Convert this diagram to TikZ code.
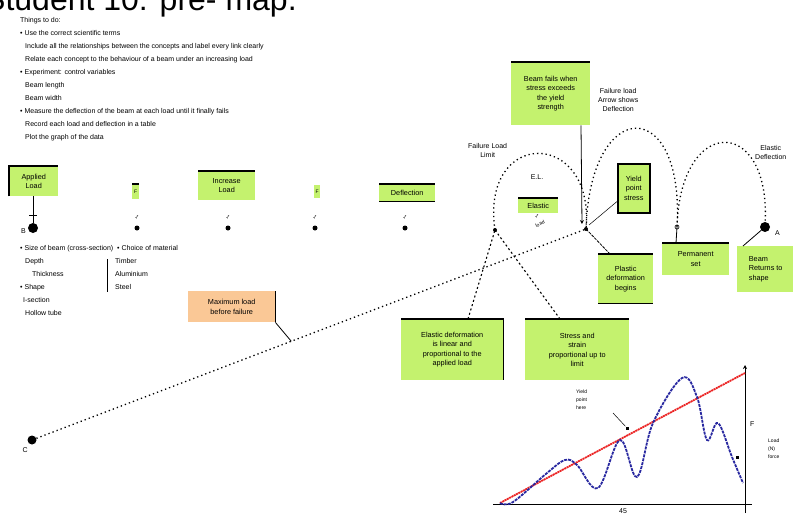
\documentclass[tikz,border=0pt]{standalone}
\usepackage{fontspec}
\setmainfont{Liberation Sans}
\usetikzlibrary{arrows.meta,calc}
\definecolor{boxgreen}{RGB}{196,242,110}
\definecolor{boxorange}{RGB}{250,200,150}
\definecolor{curveblue}{RGB}{40,40,160}
\definecolor{linered}{RGB}{235,35,35}
\begin{document}
\begin{tikzpicture}[x=1pt,y=-1pt,
  small/.style={font=\fontsize{7}{13}\selectfont, inner sep=0pt, align=left},
  tiny/.style={font=\fontsize{5}{6}\selectfont, inner sep=0pt},
  gbox/.style={fill=boxgreen, inner sep=1pt, align=center, anchor=north west,
    font=\fontsize{7.3}{13.5}\selectfont},
  obox/.style={gbox, fill=boxorange},
  rim/.style={line width=1.7pt},
  link/.style={line width=0.8pt},
  dotlink/.style={line width=1.3pt, dash pattern=on 1.3pt off 3pt},
  dashlink/.style={line width=1.1pt, dash pattern=on 2pt off 2.5pt},
  ptdot/.style={circle, fill=black, inner sep=0pt, minimum size=5pt},
  bigdot/.style={circle, fill=black, inner sep=0pt, minimum size=10pt},
  tip/.style={-{Stealth[length=4pt,width=4pt]}}]
\useasboundingbox (0,0) rectangle (793,514);

% title
\node[anchor=base west, inner sep=0pt, font=\fontsize{32}{32}\selectfont] (title) at (-16,10) {Student 10: pre- map.};

% notes block
\node[small, anchor=north west] (notes) at (20,17) {%
Things to do:\\
• Use the correct scientific terms\\
\hspace{5pt}Include all the relationships between the concepts and label every link clearly\\
\hspace{5pt}Relate each concept to the behaviour of a beam under an increasing load\\
• Experiment: control variables\\
\hspace{5pt}Beam length\\
\hspace{5pt}Beam width\\
• Measure the deflection of the beam at each load until it finally fails\\
\hspace{5pt}Record each load and deflection in a table\\
\hspace{5pt}Plot the graph of the data};

% load sequence along the beam
\node[bigdot] (B) at (33,228) {};
\node[small, anchor=east] (Blab) at (26,231) {B};
\node[ptdot] (d1) at (137,228) {};
\node[ptdot] (d2) at (228,228) {};
\node[ptdot] (d3) at (315,228) {};
\node[ptdot] (d4) at (405,228) {};
\foreach \n in {d1,d2,d3,d4}{\node[tiny, rotate=-40] at ($(\n)+(0,-11)$) {1};}

\node[gbox, minimum width=49pt, minimum height=30pt] (g1) at (9,166) {Applied\\[-4pt]Load};
\draw[rim] (g1.south west) -- (g1.north west) -- (g1.north east);
\draw[link] (g1.south west -| B) -- (B);
\draw[link] ($(B)+(-4,-13)$) -- ($(B)+(4,-13)$);

\node[gbox, minimum width=7pt, minimum height=15pt] (g2) at (132,184) {\fontsize{5}{6}\selectfont F};
\draw[rim] (g2.north west) -- (g2.north east);

\node[gbox, minimum width=57pt, minimum height=29pt] (g3) at (198,171) {Increase\\[-4pt]Load};
\draw[rim] (g3.north west) -- (g3.north east);

\node[gbox, minimum width=6pt, minimum height=13pt] (g4) at (314,185) {\fontsize{5}{6}\selectfont F};

\node[gbox, minimum width=56pt, minimum height=17pt] (g5) at (379,184) {Deflection};
\draw[rim] (g5.north west) -- (g5.north east);
\draw[rim] (g5.south west) -- (g5.south east);

% list of variables
\node[small, anchor=north west] (vars) at (20,245) {%
• Size of beam (cross-section)\ \ • Choice of material\\
\hspace{5pt}Depth\\
\hspace{12pt}Thickness\\
• Shape\\
\hspace{3pt}I-section\\
\hspace{5pt}Hollow tube};
\draw[link] (107,259) -- (107,292);
\node[small, anchor=north west] (mats) at (115,258) {Timber\\Aluminium\\Steel};

% points where the loops meet the beam
\coordinate (P1) at (495,230);
\coordinate (P2) at (586,229);
\coordinate (P3) at (677,227);
\node[ptdot, minimum size=4pt] (p1dot) at (P1) {};
\node[ptdot, minimum size=4pt] (p2dot) at (P2) {};
\node[circle, draw, line width=0.6pt, inner sep=0pt, minimum size=4pt] (p3ring) at (P3) {};
\node[bigdot] (A) at (765,227) {};
\node[small, anchor=west] (Alab) at (775,233) {A};

% loops of the load cycle
\draw[dotlink] (P1) .. controls (480,128) and (595,128) .. (P2);
\draw[dotlink] (P2) .. controls (590,95) and (685,95) .. (P3);
\draw[dotlink] (P3) .. controls (680,115) and (770,115) .. (A);

\node[small, anchor=north west, align=center] (lfail) at (468,143) {Failure Load\\[-4pt]Limit};
\node[small, anchor=north west, align=center] (lfail2) at (598,88) {Failure load\\[-4pt]Arrow shows\\[-4pt]Deflection};
\node[small, anchor=north west, align=center] (ldefl) at (755,145) {Elastic\\[-4pt]Deflection};
\node[small, anchor=center] (el) at (537,177) {E.L.};

\node[gbox, minimum width=40pt, minimum height=15pt] (gel) at (518,198) {Elastic};
\draw[rim] (gel.north west) -- (gel.north east);
\node[tiny, rotate=25] (load) at (540,224) {load};
\node[tiny, rotate=-40] at (537,216) {1};

% upper boxes
\node[gbox, minimum width=79pt, minimum height=63pt] (gtop) at (511,62) {Beam fails when\\[-4pt]stress exceeds\\[-4pt]the yield\\[-4pt]strength};
\draw[rim] (gtop.north west) -- (gtop.north east);
\draw[link, tip] ($(gtop.south west)+(70,0)$) -- ($(P2)+(-4,-5)$);

\node[gbox, draw, line width=1.5pt, minimum width=32pt, minimum height=49pt] (gyield) at (617,163) {Yield\\[-4pt]point\\[-4pt]stress};
\draw[line width=0.5pt] ($(gyield.south west)+(0,-12)$) -- ($(P2)+(3,-4)$);

% lower boxes on the right
\node[gbox, minimum width=55pt, minimum height=49pt] (gplas) at (598,254) {Plastic\\[-4pt]deformation\\[-4pt]begins};
\draw[rim] (gplas.north west) -- (gplas.north east);
\draw[rim] (gplas.south west) -- (gplas.south east);
\draw[link, dash pattern=on 3pt off 1pt] (P2) -- ($(gplas.north west)+(12,0)$);

\node[gbox, minimum width=67pt, minimum height=32pt] (gset) at (662,243) {Permanent\\[-4pt]set};
\draw[rim] (gset.north west) -- (gset.north east);
\draw[link] (P3) -- ($(gset.north west)+(14,0)$);

\node[gbox, minimum width=57pt, minimum height=46pt, align=left] (gret) at (737,246) {Beam\\[-4pt]Returns to\\[-4pt]shape};
\draw[link] (A) -- ($(gret.north west)+(6,0)$);

\node[gbox, minimum width=102pt, minimum height=61pt] (gelas) at (401,319) {Elastic deformation\\[-4pt]is linear and\\[-4pt]proportional to the\\[-4pt]applied load};
\draw[rim] (gelas.north west) -- (gelas.north east) -- (gelas.south east);
\draw[dashlink] ($(gelas.north west)+(67,0)$) -- (P1);

\node[gbox, minimum width=104pt, minimum height=61pt] (gstress) at (525,319) {Stress and\\[-4pt]strain\\[-4pt]proportional up to\\[-4pt]limit};
\draw[rim] (gstress.north west) -- (gstress.north east);
\draw[dashlink] ($(gstress.north west)+(35,0)$) -- (P1);

% the diagonal line through the beam
\node[bigdot, minimum size=9pt] (C) at (32,440) {};
\node[small, anchor=north east] (Clab) at (28,447) {C};
\draw[dotlink] (C) -- (P2);

\node[obox, minimum width=87pt, minimum height=31pt] (gmax) at (188,291) {Maximum load\\[-4pt]before failure};
\draw[rim] (gmax.north east) -- (gmax.south east);
\coordinate (onC) at ($(C)!0.468!(P2)$);
\draw[link] (gmax.south east) -- (onC);

% load against deflection graph
\coordinate (O) at (493,504);
\coordinate (Xend) at (752,504);
\coordinate (Ybot) at (745,513);
\coordinate (Ytop) at (745,365);
\draw[line width=0.9pt] (O) -- (Xend);
\draw[line width=0.9pt, tip] (Ybot) -- (Ytop);
\draw[linered, line width=1.8pt, dash pattern=on 2pt off 0.6pt] (500,503) -- (745,373);
\draw[curveblue, line width=1.8pt, dash pattern=on 3pt off 1pt] plot[smooth, tension=0.6] coordinates {
  (500,503) (513,502) (547,473) (565,460) (577,465) (598,488) (620,440)
  (637,477) (653,423) (682,378) (697,397) (707,440) (718,423) (732,457) (743,483)};
\node[fill=black, inner sep=0pt, minimum size=3pt] (ypt) at (627,428) {};
\node[fill=black, inner sep=0pt, minimum size=3pt] (mpt) at (737,457) {};
\node[tiny, align=left, anchor=north west, font=\fontsize{5}{8}\selectfont] (ylab) at (576,390) {Yield\\point\\here};
\draw[line width=0.5pt] (613,413) -- (ypt);
\node[small, anchor=west] (Flab) at (750,424) {F};
\node[tiny, align=left, anchor=north west, font=\fontsize{5}{8}\selectfont] (axlab) at (768,439) {Load\\(N)\\force};
\node[small, anchor=north] (xlab) at (623,508) {45};
\end{tikzpicture}
\end{document}
